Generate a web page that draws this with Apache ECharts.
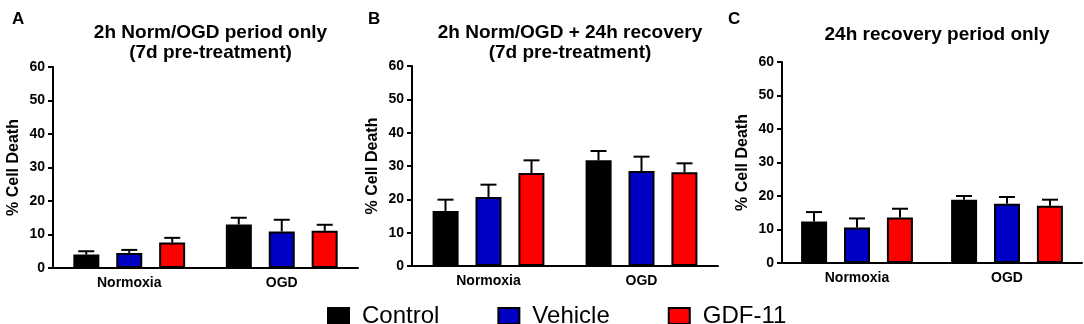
<!DOCTYPE html>
<html>
<head>
<meta charset="utf-8">
<script src="https://cdn.jsdelivr.net/npm/echarts@6/dist/echarts.min.js"></script>
<style>
    html, body { margin: 0; padding: 0; background: #fff; }
    #chart { width: 1084px; height: 324px; }
</style>
</head>
<body>
<div id="chart"></div>
<script>
// ============================================
// % cell death, three panels (A, B, C)
// ============================================

const categories = ['Normoxia', 'OGD'];
const groupNames = ['Control', 'Vehicle', 'GDF-11'];
const yTicks = [0, 10, 20, 30, 40, 50, 60];

// panel A: 2h Norm/OGD only
const controlA = [4.0, 13.0];
const vehicleA = [4.5, 10.9];
const gdfA = [7.6, 11.1];
const controlSemA = [1.0, 2.0];
const vehicleSemA = [0.9, 3.5];
const gdfSemA = [1.4, 1.8];

// panel B: 2h Norm/OGD + 24h recovery
const controlB = [16.5, 31.7];
const vehicleB = [20.7, 28.5];
const gdfB = [27.9, 28.1];
const controlSemB = [3.4, 2.8];
const vehicleSemB = [3.7, 4.3];
const gdfSemB = [3.8, 2.7];

// panel C: 24h recovery only
const controlC = [12.4, 18.9];
const vehicleC = [10.6, 17.7];
const gdfC = [13.6, 17.1];
const controlSemC = [2.8, 1.1];
const vehicleSemC = [2.7, 2.0];
const gdfSemC = [2.6, 1.8];

const titlesText = [
    '2h Norm/OGD period only\n(7d pre-treatment)',
    '2h Norm/OGD + 24h recovery\n(7d pre-treatment)',
    '24h recovery period only'
];
const panelLetters = ['A', 'B', 'C'];

const colors = ['#000000', '#0000c4', '#ff0000'];
const FONT = "'Liberation Sans', Arial, sans-serif";
const BAR_W = 26;
const BAR_GAP = 17;

const panels = [
    { means: [controlA, vehicleA, gdfA], sems: [controlSemA, vehicleSemA, gdfSemA] },
    { means: [controlB, vehicleB, gdfB], sems: [controlSemB, vehicleSemB, gdfSemB] },
    { means: [controlC, vehicleC, gdfC], sems: [controlSemC, vehicleSemC, gdfSemC] }
];

const grids = [
    { left: 53, top: 67, width: 305, height: 201 },
    { left: 412, top: 66, width: 306, height: 200 },
    { left: 782, top: 62, width: 300, height: 201 }
];

const titleTops = [18, 18, 20];
const letterLefts = [7, 363, 723];

// 誤差線（只畫上半）
function errorSeries(panelIdx, groupIdx) {
    const means = panels[panelIdx].means[groupIdx];
    const sems = panels[panelIdx].sems[groupIdx];
    const offset = (groupIdx - 1) * (BAR_W + BAR_GAP);
    return {
        type: 'custom',
        name: 'err' + panelIdx + groupIdx,
        xAxisIndex: panelIdx,
        yAxisIndex: panelIdx,
        z: 5,
        silent: true,
        data: means.map((m, i) => [i, m, m + sems[i]]),
        renderItem: (params, api) => {
            const base = api.coord([api.value(0), api.value(1)]);
            const top = api.coord([api.value(0), api.value(2)]);
            const x = base[0] + offset;
            return {
                type: 'group',
                children: [
                    { type: 'line', shape: { x1: x, y1: base[1], x2: x, y2: top[1] }, style: { stroke: '#000', lineWidth: 2 } },
                    { type: 'line', shape: { x1: x - 8, y1: top[1], x2: x + 8, y2: top[1] }, style: { stroke: '#000', lineWidth: 2 } }
                ]
            };
        }
    };
}

const series = [];
panels.forEach((p, pi) => {
    p.means.forEach((vals, gi) => {
        series.push({
            type: 'bar',
            name: groupNames[gi],
            xAxisIndex: pi,
            yAxisIndex: pi,
            data: vals,
            barWidth: BAR_W,
            barGap: '65%',
            itemStyle: { color: colors[gi], borderColor: '#000', borderWidth: 2 },
            z: 3
        });
    });
});
panels.forEach((p, pi) => {
    p.means.forEach((vals, gi) => series.push(errorSeries(pi, gi)));
});

const titles = [];
grids.forEach((g, i) => {
    titles.push({
        text: titlesText[i],
        left: g.left + g.width / 2,
        top: titleTops[i],
        textAlign: 'center',
        textStyle: { fontFamily: FONT, fontSize: 19, fontWeight: 'bold', color: '#000', lineHeight: 20 }
    });
    titles.push({
        text: panelLetters[i],
        left: letterLefts[i],
        top: 6,
        textStyle: { fontFamily: FONT, fontSize: 17, fontWeight: 'bold', color: '#000' }
    });
});

const chart = echarts.init(document.getElementById('chart'));
chart.setOption({
    animation: false,
    backgroundColor: '#fff',
    title: titles,
    legend: {
        data: groupNames.map((n, i) => ({ name: n, itemStyle: { color: colors[i], borderColor: '#000', borderWidth: 2 } })),
        left: 322,
        top: 299,
        itemWidth: 21,
        itemHeight: 16,
        itemGap: 58,
        icon: 'rect',
        textStyle: { fontFamily: FONT, fontSize: 24, color: '#000', padding: [0, 0, 0, 8] }
    },
    grid: grids,
    xAxis: grids.map((g, i) => ({
        type: 'category',
        gridIndex: i,
        data: categories,
        axisLine: { lineStyle: { color: '#000', width: 2 } },
        axisTick: { alignWithLabel: true, length: 5, lineStyle: { color: '#000', width: 2 } },
        axisLabel: { fontFamily: FONT, fontSize: 14, fontWeight: 'bold', color: '#000', margin: 8 }
    })),
    yAxis: grids.map((g, i) => ({
        type: 'value',
        gridIndex: i,
        min: yTicks[0],
        max: yTicks[yTicks.length - 1],
        interval: 10,
        name: '% Cell Death',
        nameLocation: 'middle',
        nameGap: 31,
        nameTextStyle: { fontFamily: FONT, fontSize: 16, fontWeight: 'bold', color: '#000' },
        axisLine: { show: true, lineStyle: { color: '#000', width: 2 } },
        axisTick: { show: true, length: 5, lineStyle: { color: '#000', width: 2 } },
        axisLabel: { fontFamily: FONT, fontSize: 14, fontWeight: 'bold', color: '#000', margin: 8 },
        splitLine: { show: false }
    })),
    series: series
});
</script>
</body>
</html>
